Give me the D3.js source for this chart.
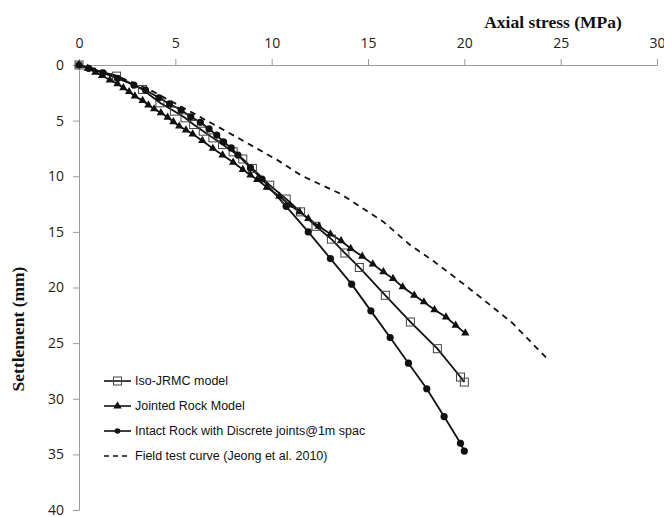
<!DOCTYPE html>
<html>
<head>
<meta charset="utf-8">
<script src="https://cdn.jsdelivr.net/npm/d3@7"></script>
<style>
  body { margin: 0; background: #fff; overflow: hidden; }
  svg { display: block; }
  .tick text { font-family: "Open Sans", "Liberation Sans", sans-serif; font-size: 14px; fill: #222; }
  .title { font-family: "Liberation Serif", "Times New Roman", serif; font-weight: bold; font-size: 17.5px; fill: #111; }
  .legend text { font-family: "Liberation Sans", Arial, sans-serif; font-size: 12.5px; fill: #111; }
</style>
</head>
<body>
<svg id="chart"></svg>
<script>
// axial stress (MPa), settlement (mm)
var isoJrmc = [
  [0,0],[1.95,1.0],[3.3,2.2],[4.2,3.4],[4.95,4.15],[5.5,4.75],[5.95,5.35],
  [6.45,5.95],[6.95,6.55],[7.45,7.15],[8.0,7.8],[8.5,8.45],[9.0,9.3],
  [9.9,10.8],[10.75,12.05],[11.5,13.2],[12.3,14.5],[13.1,15.65],[13.8,16.9],
  [14.55,18.2],[15.9,20.7],[17.2,23.1],[18.6,25.5],[19.8,28.05],[20.0,28.5]
];
var jointedRock = [
  [0,0],[0.45,0.3],[0.85,0.65],[1.2,0.95],[1.6,1.35],[2.0,1.7],[2.3,2.05],
  [2.6,2.4],[2.9,2.8],[3.3,3.2],[3.6,3.6],[3.9,3.95],[4.25,4.3],[4.6,4.7],
  [4.9,5.1],[5.2,5.5],[5.55,5.85],[5.9,6.2],[6.4,6.8],[6.95,7.5],[7.45,8.1],
  [8.0,8.75],[8.5,9.4],[8.9,9.9],[9.25,10.3],[9.75,11.0],[10.4,11.8],
  [10.95,12.6],[11.45,13.2],[11.9,13.8],[12.45,14.5],[13.05,15.2],[13.6,15.8],
  [14.1,16.5],[14.7,17.2],[15.25,17.9],[15.8,18.6],[16.3,19.2],[16.8,19.95],
  [17.4,20.7],[17.9,21.3],[18.45,22.0],[19.05,22.65],[19.55,23.4],[20.05,24.1]
];
var intactRock = [
  [0,0],[0.5,0.3],[1.25,0.7],[2.0,1.2],[2.85,1.8],[3.45,2.25],[4.15,2.95],
  [4.7,3.5],[5.3,4.05],[5.8,4.65],[6.3,5.15],[6.75,5.75],[7.15,6.3],[7.5,6.9],
  [7.9,7.45],[8.25,8.1],[8.9,9.25],[9.5,10.25],[10.75,12.7],[11.9,15.0],
  [13.05,17.4],[14.15,19.7],[15.15,22.1],[16.15,24.5],[17.1,26.8],[18.05,29.1],
  [18.95,31.6],[19.8,34.0],[20.0,34.7]
];
var fieldTest = [
  [0,0],[1,0.4],[2,1.0],[3.7,2.25],[5.9,4.3],[8.2,6.5],[10.3,8.55],[11.5,9.9],
  [13.6,11.6],[15.8,14.1],[17.2,16.2],[18.3,17.5],[19.6,19.2],[21.0,21.1],
  [22.5,23.2],[24.3,26.4]
];
var seriesNames = [
  'Iso-JRMC model',
  'Jointed Rock Model',
  'Intact Rock with Discrete joints@1m spac',
  'Field test curve (Jeong et al. 2010)'
];
var xTicks = [0, 5, 10, 15, 20, 25, 30];
var yTicks = [0, 5, 10, 15, 20, 25, 30, 35, 40];

(function(){
  var width = 664, height = 517,
      plotLeft = 79, plotRight = 657, plotTop = 65, plotBottom = 510;

  var svg = d3.select('#chart').attr('width', width).attr('height', height);

  var x = d3.scaleLinear().domain([0, 30]).range([plotLeft, plotRight]);
  var y = d3.scaleLinear().domain([0, 40]).range([plotTop, plotBottom]);

  var xAxis = svg.append('g')
    .attr('transform', 'translate(0,' + plotTop + ')')
    .call(d3.axisTop(x).tickValues(xTicks).tickSize(6).tickPadding(11));
  var yAxis = svg.append('g')
    .attr('transform', 'translate(' + plotLeft + ',0)')
    .call(d3.axisLeft(y).tickValues(yTicks).tickSize(6).tickPadding(9));

  [xAxis, yAxis].forEach(function(g){
    g.select('.domain').attr('stroke', '#9a9a9a').attr('stroke-width', 1);
    g.selectAll('.tick line').attr('stroke', '#9a9a9a');
  });

  svg.append('text')
    .attr('class', 'title')
    .attr('x', 553).attr('y', 28)
    .attr('text-anchor', 'middle')
    .text('Axial stress (MPa)');

  svg.append('text')
    .attr('class', 'title')
    .attr('transform', 'translate(24,329) rotate(-90)')
    .attr('text-anchor', 'middle')
    .text('Settlement (mm)');

  var line = d3.line()
    .x(function(d){ return x(d[0]); })
    .y(function(d){ return y(d[1]); });

  function drawLine(data, dash){
    svg.append('path')
      .datum(data)
      .attr('fill', 'none')
      .attr('stroke', '#111')
      .attr('stroke-width', 1.8)
      .attr('stroke-dasharray', dash || null)
      .attr('d', line);
  }

  drawLine(fieldTest, '6,5');
  drawLine(isoJrmc);
  drawLine(jointedRock);
  drawLine(intactRock);

  var tri = d3.symbol().type(d3.symbolTriangle).size(30);

  // marker helpers take a list of pixel points
  function squares(g, pts){
    g.selectAll('rect.sq')
      .data(pts)
      .enter()
        .append('rect')
        .attr('class', 'sq')
        .attr('x', function(p){ return p[0] - 4; })
        .attr('y', function(p){ return p[1] - 4; })
        .attr('width', 8).attr('height', 8)
        .attr('fill', 'none')
        .attr('stroke', '#444')
        .attr('stroke-width', 1);
  }
  function triangles(g, pts){
    g.selectAll('path.tr')
      .data(pts)
      .enter()
        .append('path')
        .attr('class', 'tr')
        .attr('d', tri)
        .attr('fill', '#111')
        .attr('transform', function(p){ return 'translate(' + p[0] + ',' + p[1] + ')'; });
  }
  function dots(g, pts, r){
    g.selectAll('circle')
      .data(pts)
      .enter()
        .append('circle')
        .attr('cx', function(p){ return p[0]; })
        .attr('cy', function(p){ return p[1]; })
        .attr('r', r)
        .attr('fill', '#111');
  }
  function toPx(data){
    return data.map(function(d){ return [x(d[0]), y(d[1])]; });
  }

  squares(svg.append('g'), toPx(isoJrmc));
  triangles(svg.append('g'), toPx(jointedRock));
  dots(svg.append('g'), toPx(intactRock), 3.6);

  // legend
  var legend = svg.append('g').attr('class', 'legend');
  var rows = [381, 406, 431, 456];
  seriesNames.forEach(function(name, i){
    var g = legend.append('g').attr('transform', 'translate(0,' + rows[i] + ')');
    g.append('line')
      .attr('x1', 104).attr('x2', 131).attr('y1', 0).attr('y2', 0)
      .attr('stroke', '#111').attr('stroke-width', 1.6)
      .attr('stroke-dasharray', i === 3 ? '5,4' : null);
    if (i === 0) squares(g, [[117.5, 0]]);
    if (i === 1) triangles(g, [[117.5, 0]]);
    if (i === 2) dots(g, [[117.5, 0]], 2.8);
    g.append('text')
      .attr('x', 135).attr('y', 0).attr('dy', '0.35em')
      .text(name);
  });
})();
</script>
</body>
</html>
